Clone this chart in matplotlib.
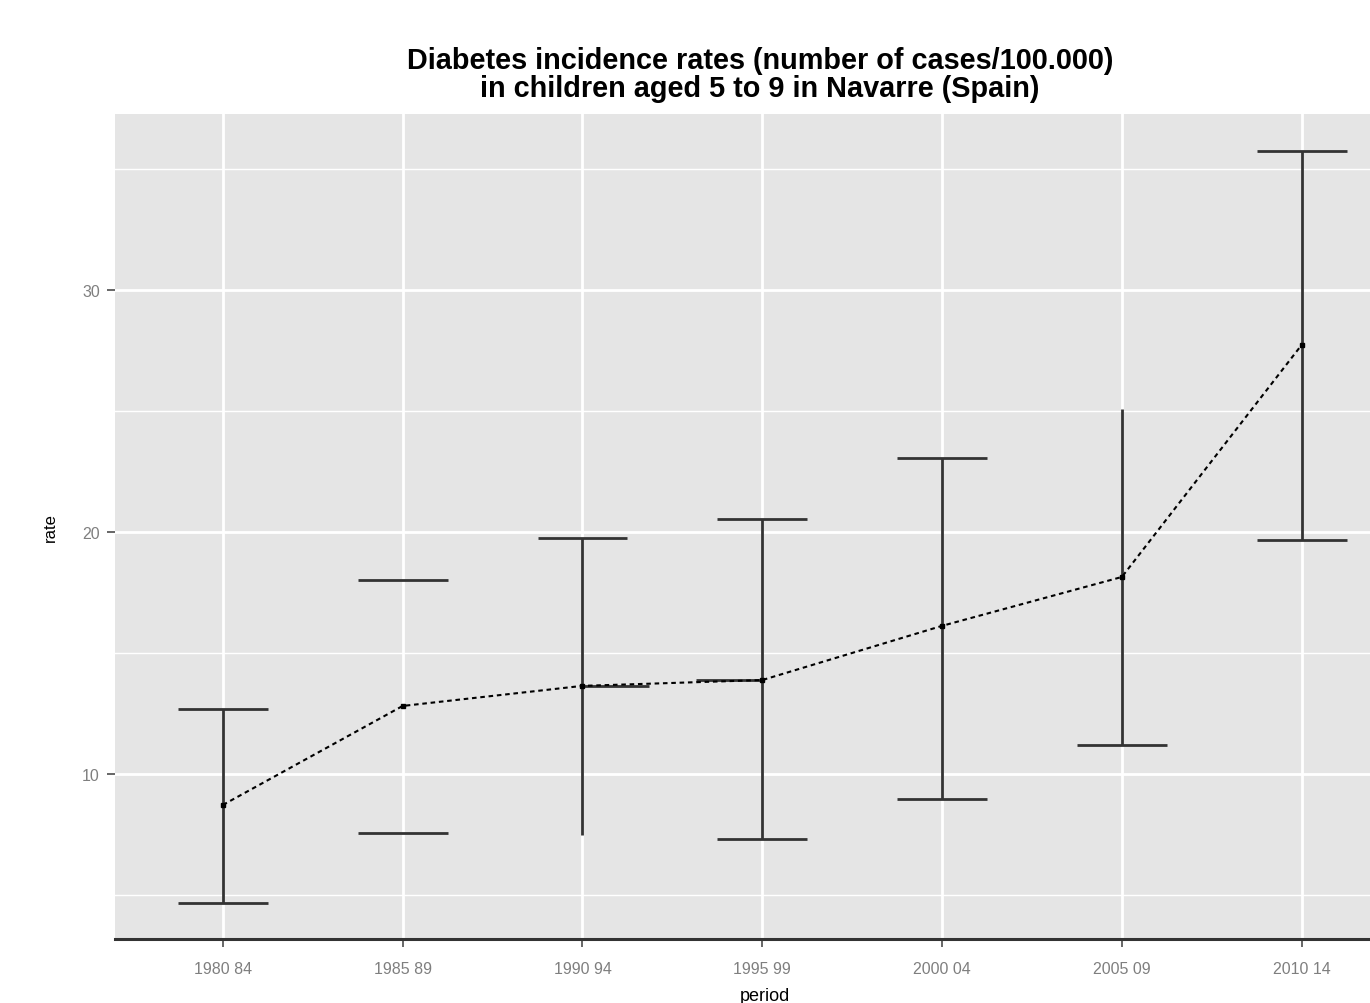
"""
Diabetes incidence rates in children aged 5 to 9, Navarre
"""

import numpy as np
import matplotlib.pyplot as plt
from matplotlib.ticker import MultipleLocator

periods = ["1980 84", "1985 89", "1990 94", "1995 99", "2000 04", "2005 09", "2010 14"]
rate = [8.72, 12.81, 13.64, 13.88, 16.12, 18.14, 27.73]
lower = [4.67, 7.56, 7.48, 7.31, 8.97, 11.20, 19.67]
upper = [12.69, 18.02, 19.75, 20.54, 23.06, 25.08, 35.74]

# which pieces of each error bar get drawn
show_stem = [True, False, True, True, True, True, True]
show_top_cap = [True, True, True, True, True, False, True]
show_low_cap = [True, True, False, True, True, True, True]
# short horizontal tick at the estimate: +1 right, -1 left, 0 none
mid_tick = [0, 0, 1, -1, 0, 0, 0]

panel_bg = "#E5E5E5"
bar_col = "#333333"
cap_half = 0.25
mid_len = 0.37


def draw_errorbars(ax, x):
    for i in range(len(x)):
        if show_stem[i]:
            ax.vlines(x[i], lower[i], upper[i], color=bar_col, lw=2.0, zorder=3)
        if show_top_cap[i]:
            ax.hlines(upper[i], x[i] - cap_half, x[i] + cap_half, color=bar_col, lw=2.0, zorder=3)
        if show_low_cap[i]:
            ax.hlines(lower[i], x[i] - cap_half, x[i] + cap_half, color=bar_col, lw=2.0, zorder=3)
        if mid_tick[i] != 0:
            ax.hlines(rate[i], x[i], x[i] + mid_tick[i] * mid_len, color=bar_col, lw=2.0, zorder=3)


def main():
    plt.rcParams["font.family"] = ["Liberation Sans", "DejaVu Sans"]
    fig = plt.figure(figsize=(13.7, 10.04), dpi=100)
    ax = fig.add_axes([115 / 1370, 64 / 1004, 1 - 115 / 1370, 825 / 1004])
    ax.set_facecolor(panel_bg)

    x = np.arange(len(periods))

    # grid: major white, minor thinner
    ax.yaxis.set_major_locator(MultipleLocator(10))
    ax.yaxis.set_minor_locator(MultipleLocator(5))
    ax.grid(True, which="major", color="white", lw=2.0)
    ax.grid(True, which="minor", axis="y", color="white", lw=1.0)
    ax.set_axisbelow(True)

    draw_errorbars(ax, x)
    ax.plot(x, rate, color="black", lw=1.5, ls=(0, (2.2, 1.8)), zorder=4)
    ax.plot(x, rate, "s", color="black", ms=3.5, zorder=5)

    ax.set_xticks(x)
    ax.set_xticklabels(periods)
    ax.set_xlim(-0.6, 6.38)
    ax.set_ylim(3.18, 37.27)

    ax.tick_params(axis="both", which="major", colors="#4D4D4D", labelcolor="#7F7F7F",
                   labelsize=11.5, length=6, width=1.2)
    ax.tick_params(axis="x", pad=10)
    ax.tick_params(axis="y", pad=5)
    ax.tick_params(axis="y", which="minor", length=0)

    for side in ["left", "right", "top"]:
        ax.spines[side].set_visible(False)
    ax.spines["bottom"].set_color("#333333")
    ax.spines["bottom"].set_linewidth(2.2)

    ax.set_xlabel("period", fontsize=13)
    ax.xaxis.set_label_coords(0.518, -0.058)
    ax.set_ylabel("rate", fontsize=12)
    ax.yaxis.set_label_coords(-0.0454, 0.5)

    ax.set_title("Diabetes incidence rates (number of cases/100.000)\n"
                 "in children aged 5 to 9 in Navarre (Spain)",
                 fontsize=20.8, fontweight="bold", x=0.514, pad=13, linespacing=1.0)

    fig.savefig("out.png", dpi=100)


if __name__ == '__main__':
    main()
